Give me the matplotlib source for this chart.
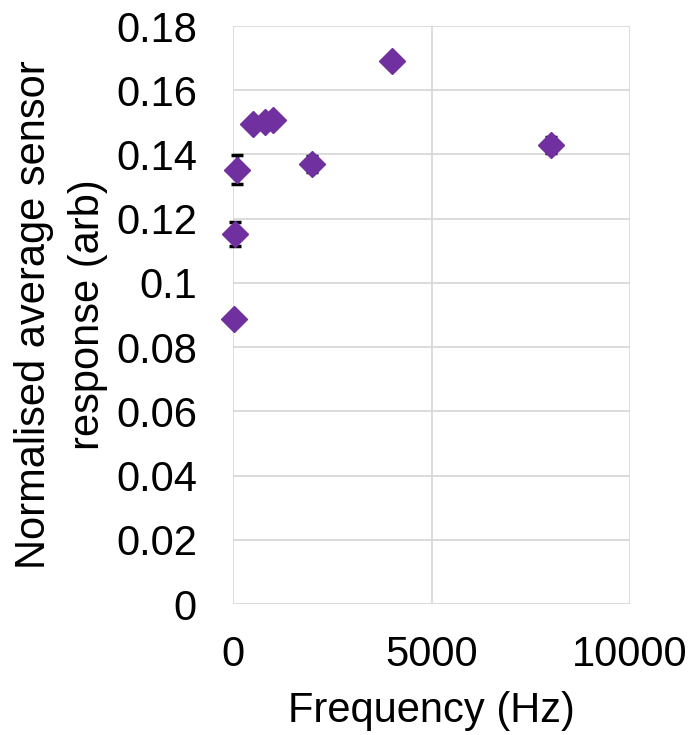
import matplotlib
matplotlib.use("Agg")
import matplotlib.pyplot as plt

freq = [20, 50, 100, 500, 800, 1000, 2000, 4000, 8000]
resp = [0.0888, 0.1152, 0.1352, 0.1495, 0.1500, 0.1507, 0.1370, 0.1691, 0.1429]
err = [0.0005, 0.0037, 0.0045, 0.0010, 0.0015, 0.0015, 0.0025, 0.0008, 0.0025]

plt.rcParams['font.family'] = ['Liberation Sans', 'DejaVu Sans']

fig = plt.figure(figsize=(6.95, 7.35), dpi=100)
ax = fig.add_axes([233/695, 1 - 604/735, (630-233)/695, (604-26)/735])

ax.errorbar(freq, resp, yerr=err, fmt='none', ecolor='black', elinewidth=2.5,
            capsize=4, capthick=2.5, zorder=3, clip_on=False)
ax.plot(freq, resp, linestyle='none', marker='D', markersize=13,
        color='#7030A0', zorder=4, clip_on=False)

ax.set_xlim(0, 10000)
ax.set_ylim(0, 0.18)
ax.set_xticks([0, 5000, 10000])
ax.set_yticks([0, 0.02, 0.04, 0.06, 0.08, 0.1, 0.12, 0.14, 0.16, 0.18])
ax.set_yticklabels(['0', '0.02', '0.04', '0.06', '0.08', '0.1', '0.12', '0.14', '0.16', '0.18'])
ax.grid(True, color='#d9d9d9', linewidth=1.3)
ax.set_axisbelow(True)
for s in ax.spines.values():
    s.set_visible(False)
ax.tick_params(axis='y', length=0, labelsize=30, pad=26)
ax.tick_params(axis='x', length=0, labelsize=30, pad=22)

ax.set_xlabel('Frequency (Hz)', fontsize=30)
ax.set_ylabel('Normalised average sensor\nresponse (arb)', fontsize=30, linespacing=1.45)
ax.xaxis.set_label_coords(0.5, -0.151)
ax.yaxis.set_label_coords((108-233)/397, 0.5)

fig.savefig('out.png', dpi=100)
